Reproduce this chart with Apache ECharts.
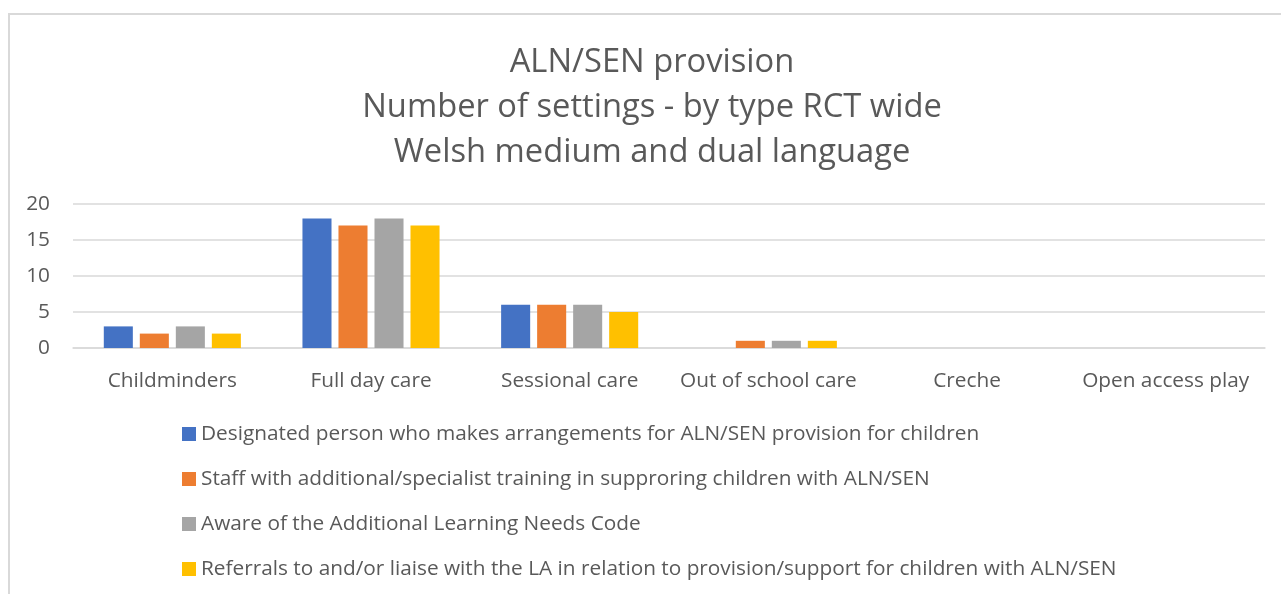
<!DOCTYPE html>
<html>
<head>
<meta charset="utf-8">
<script src="https://cdn.jsdelivr.net/npm/echarts@6/dist/echarts.min.js"></script>
<style>
html,body{margin:0;padding:0;background:#fff;}
#frame{position:absolute;left:8px;top:13px;width:1300px;height:600px;border-left:2px solid #d9d9d9;border-top:2px solid #d9d9d9;}
#chart{position:absolute;left:0;top:0;width:1281px;height:594px;}
</style>
</head>
<body>
<div id="frame"></div>
<div id="chart"></div>
<script>
const categories = ["Childminders", "Full day care", "Sessional care", "Out of school care", "Creche", "Open access play"];
const seriesNames = [
  "Designated person who makes arrangements for ALN/SEN provision for children",
  "Staff with additional/specialist training in supproring children with ALN/SEN",
  "Aware of the Additional Learning Needs Code",
  "Referrals to and/or liaise with the LA in relation to provision/support for children with ALN/SEN"
];
const designated = [3, 18, 6, 0, 0, 0];
const staffTraining = [2, 17, 6, 1, 0, 0];
const awareCode = [3, 18, 6, 1, 0, 0];
const referrals = [2, 17, 5, 1, 0, 0];
const colors = ["#4472c4", "#ed7d31", "#a5a5a5", "#ffc000"];
const titleLines = ["ALN/SEN provision", "Number of settings - by type RCT wide", "Welsh medium and dual language"];

const FONT = "'Open Sans', sans-serif";
const values = [designated, staffTraining, awareCode, referrals];
const chart = echarts.init(document.getElementById('chart'), null, {renderer: 'canvas'});
chart.setOption({
  animation: false,
  title: {
    text: titleLines.join('\n'),
    left: 647, top: 35, textAlign: 'center',
    textStyle: {fontFamily: FONT, fontSize: 32.7, fontWeight: 'normal', color: '#595959', lineHeight: 45}
  },
  legend: {
    orient: 'vertical', left: 177, top: 418.5,
    itemWidth: 14, itemHeight: 14, itemGap: 24,
    icon: 'rect',
    textStyle: {fontFamily: FONT, fontSize: 20.8, color: '#595959', lineHeight: 21},
    data: seriesNames
  },
  grid: {left: 73, right: 16, top: 204, bottom: 246, containLabel: false},
  xAxis: {
    type: 'category', data: categories,
    axisLine: {show: true, lineStyle: {color: '#d9d9d9', width: 1.5}},
    axisTick: {show: false},
    axisLabel: {fontFamily: FONT, fontSize: 20.8, color: '#595959', margin: 23, interval: 0}
  },
  yAxis: {
    type: 'value', min: 0, max: 20, interval: 5,
    axisLine: {show: false}, axisTick: {show: false},
    splitLine: {lineStyle: {color: '#d9d9d9', width: 1.5}},
    axisLabel: {fontFamily: FONT, fontSize: 20.8, color: '#595959', margin: 23}
  },
  series: seriesNames.map((n, i) => ({
    name: n, type: 'bar', data: values[i],
    itemStyle: {color: colors[i]},
    barGap: '24%', barCategoryGap: '31%'
  }))
});
</script>
</body>
</html>
